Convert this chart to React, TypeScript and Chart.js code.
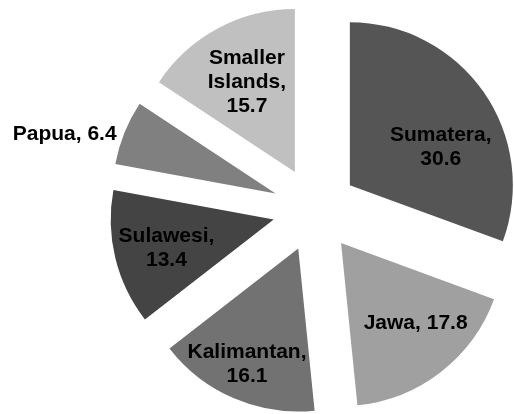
import React, { useEffect, useRef } from "react";
import { Chart, registerables } from "chart.js";

Chart.register(...registerables);

// ---- data ----
const categories: string[] = ["Sumatera", "Jawa", "Kalimantan", "Sulawesi", "Papua", "Smaller Islands"];
const shares: number[] = [30.6, 17.8, 16.1, 13.4, 6.4, 15.7];
const sliceColors: string[] = ["#555555", "#a0a0a0", "#727272", "#444444", "#808080", "#c0c0c0"];
// whether the data label wraps after the name
const wrapLabel: boolean[] = [true, false, true, true, false, true];

// ---- label placement (style, relative to each exploded slice) ----
const labelRadiusFrac: number[] = [0.607, 0.667, 0.772, 0.679, 1.345, 0.628];
const labelAngleNudgeDeg: number[] = [11.7, -5.5, 0.8, -0.6, -6.1, 0.3];

const EXPLODE = 42.5;
const RADIUS = 163;
const LINE_H = 24;
const FONT = 'bold 21px "Liberation Sans", Arial, Helvetica, sans-serif';

function labelLines(i: number): string[] {
  const name = categories[i];
  const val = shares[i].toFixed(1);
  if (!wrapLabel[i]) return [name + ", " + val];
  const words = name.split(" ");
  words[words.length - 1] = words[words.length - 1] + ",";
  return [...words, val];
}

const explodePlugin = {
  id: "explodeSlices",
  afterUpdate(chart: any) {
    const meta = chart.getDatasetMeta(0);
    meta.data.forEach((arc: any) => {
      const half = (arc.startAngle + arc.endAngle) / 2;
      arc.x = arc.x + Math.cos(half) * EXPLODE;
      arc.y = arc.y + Math.sin(half) * EXPLODE;
    });
  },
};

const labelPlugin = {
  id: "sliceLabels",
  afterDatasetsDraw(chart: any) {
    const ctx = chart.ctx;
    const meta = chart.getDatasetMeta(0);
    ctx.save();
    ctx.font = FONT;
    ctx.fillStyle = "#000000";
    ctx.textAlign = "center";
    ctx.textBaseline = "middle";
    meta.data.forEach((arc: any, i: number) => {
      const half = (arc.startAngle + arc.endAngle) / 2 + (labelAngleNudgeDeg[i] * Math.PI) / 180;
      const r = arc.outerRadius * labelRadiusFrac[i];
      const cx = arc.x + Math.cos(half) * r;
      const cy = arc.y + Math.sin(half) * r;
      const lines = labelLines(i);
      const startY = cy - ((lines.length - 1) * LINE_H) / 2;
      lines.forEach((ln, k) => {
        ctx.fillText(ln, cx, startY + k * LINE_H + 1);
      });
    });
    ctx.restore();
  },
};

export default function App() {
  const canvasRef = useRef<HTMLCanvasElement | null>(null);

  useEffect(() => {
    if (!canvasRef.current) return;
    const chart = new Chart(canvasRef.current, {
      type: "pie",
      data: {
        labels: categories,
        datasets: [
          {
            data: shares,
            backgroundColor: sliceColors,
            borderWidth: 0,
          },
        ],
      },
      options: {
        animation: false,
        responsive: true,
        maintainAspectRatio: false,
        events: [],
        radius: RADIUS,
        layout: { padding: { left: 116, right: 0, top: 5, bottom: 0 } },
        plugins: {
          legend: { display: false },
          tooltip: { enabled: false },
          title: { display: false },
        },
      } as any,
      plugins: [explodePlugin, labelPlugin],
    });
    return () => chart.destroy();
  }, []);

  return (
    <div style={{ position: "fixed", left: 0, top: 0, width: 514, height: 414, background: "#ffffff" }}>
      <canvas ref={canvasRef} />
    </div>
  );
}
